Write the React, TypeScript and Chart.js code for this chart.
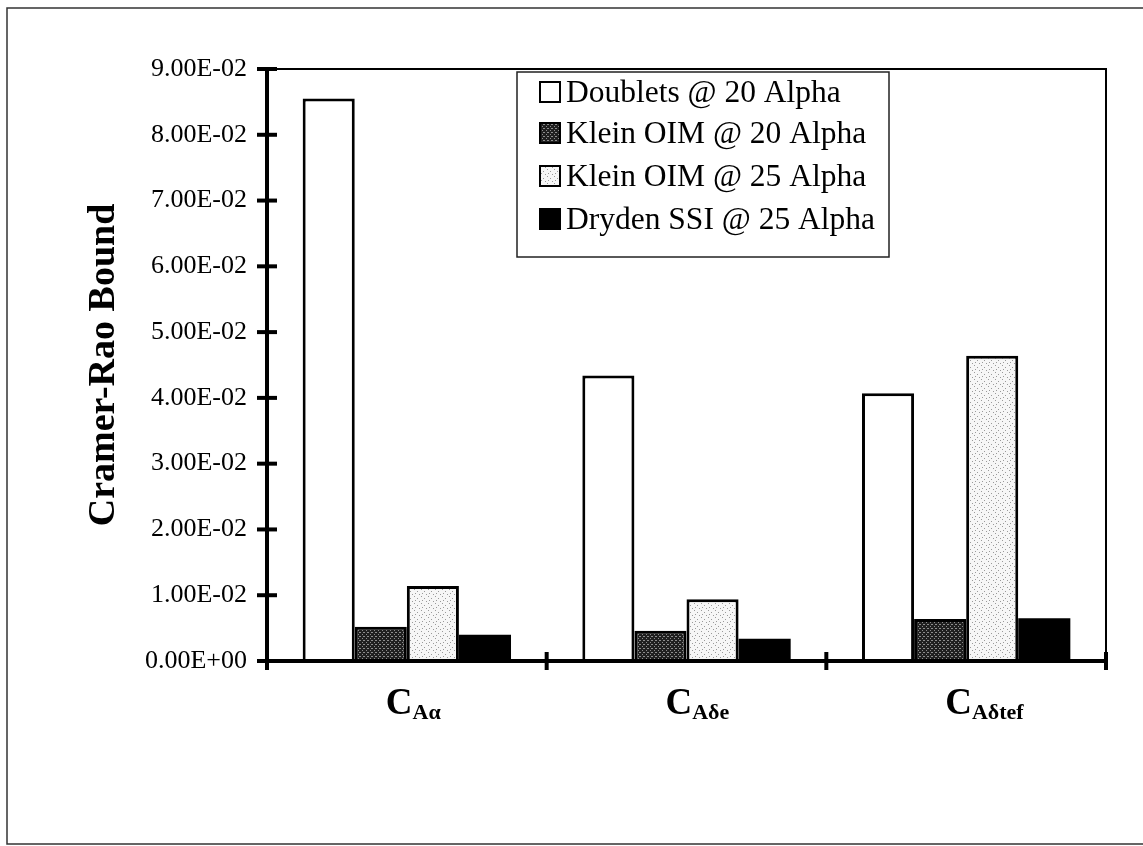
import React, { useEffect, useRef } from "react";
import { Chart, registerables } from "chart.js";

Chart.register(...registerables);

const categories = ["CAα", "CAδe", "CAδtef"];
const labelMain = ["C", "C", "C"];
const labelSub = ["Aα", "Aδe", "Aδtef"];
const seriesNames = [
  "Doublets @ 20 Alpha",
  "Klein OIM @ 20 Alpha",
  "Klein OIM @ 25 Alpha",
  "Dryden SSI @ 25 Alpha",
];
const doublets20 = [0.0855, 0.0434, 0.0407];
const klein20 = [0.0052, 0.0046, 0.0064];
const klein25 = [0.0114, 0.0094, 0.0464];
const dryden25 = [0.004, 0.0034, 0.0065];
const yMin = 0;
const yMax = 0.09;
const yStep = 0.01;

const SERIF = "'Liberation Serif', 'DejaVu Serif', serif";

function fmtExp(v: number): string {
  if (Math.abs(v) < 1e-12) return "0.00E+00";
  const s = v.toExponential(2);
  const [m, e] = s.split("e");
  const n = parseInt(e, 10);
  const sign = n < 0 ? "-" : "+";
  const abs = Math.abs(n).toString().padStart(2, "0");
  return `${m}E${sign}${abs}`;
}

function makePattern(
  ctx: CanvasRenderingContext2D,
  size: number,
  bg: string,
  fg: string,
  cells: [number, number][]
): CanvasPattern | string {
  const c = document.createElement("canvas");
  c.width = size;
  c.height = size;
  const g = c.getContext("2d");
  if (!g) return bg;
  g.fillStyle = bg;
  g.fillRect(0, 0, size, size);
  g.fillStyle = fg;
  for (const [x, y] of cells) g.fillRect(x, y, 1, 1);
  return ctx.createPattern(c, "repeat") || bg;
}

export default function App() {
  const ref = useRef<HTMLCanvasElement | null>(null);

  useEffect(() => {
    const canvas = ref.current;
    if (!canvas) return;
    const ctx0 = canvas.getContext("2d");
    if (!ctx0) return;

    const darkPat = makePattern(ctx0, 4, "#202020", "#8c8c8c", [
      [0, 0],
      [2, 2],
      [3, 0],
    ]);
    const lightPat = makePattern(ctx0, 7, "#f6f6f6", "#9a9a9a", [
      [1, 1],
      [4, 3],
      [2, 5],
      [6, 6],
    ]);

    const fills = ["#ffffff", darkPat, lightPat, "#000000"];
    const values = [doublets20, klein20, klein25, dryden25];

    const framePlugin = {
      id: "framePlugin",
      beforeDraw(chart: any) {
        const c = chart.ctx;
        c.save();
        c.fillStyle = "#ffffff";
        c.fillRect(0, 0, chart.width, chart.height);
        c.strokeStyle = "#333333";
        c.lineWidth = 1.5;
        c.beginPath();
        c.moveTo(1150, 8);
        c.lineTo(7, 8);
        c.lineTo(7, 844);
        c.lineTo(1150, 844);
        c.stroke();
        c.restore();
      },
      afterDatasetsDraw(chart: any) {
        const c = chart.ctx;
        const area = chart.chartArea;
        const x = chart.scales.x;
        const y = chart.scales.y;
        c.save();
        c.strokeStyle = "#000";
        c.lineWidth = 2;
        c.beginPath();
        c.moveTo(area.left, area.top);
        c.lineTo(area.right, area.top);
        c.lineTo(area.right, area.bottom);
        c.stroke();
        c.lineWidth = 4;
        c.beginPath();
        c.moveTo(area.left, area.top);
        c.lineTo(area.left, area.bottom);
        c.lineTo(area.right, area.bottom);
        c.stroke();
        for (const t of y.ticks) {
          const py = y.getPixelForValue(t.value);
          c.beginPath();
          c.moveTo(area.left - 10, py);
          c.lineTo(area.left + 10, py);
          c.stroke();
        }
        const n = categories.length;
        const bounds: number[] = [area.left];
        for (let i = 0; i < n - 1; i++) {
          bounds.push((x.getPixelForValue(i) + x.getPixelForValue(i + 1)) / 2);
        }
        bounds.push(area.right);
        for (const bx of bounds) {
          c.beginPath();
          c.moveTo(bx, area.bottom - 9);
          c.lineTo(bx, area.bottom + 9);
          c.stroke();
        }
        c.fillStyle = "#000";
        c.textBaseline = "alphabetic";
        c.textAlign = "left";
        for (let i = 0; i < n; i++) {
          const cx = x.getPixelForValue(i);
          const left = cx - 21;
          c.font = `bold 37px ${SERIF}`;
          c.fillText(labelMain[i], left, area.bottom + 53);
          const w = c.measureText(labelMain[i]).width;
          c.font = `bold 22px ${SERIF}`;
          c.fillText(labelSub[i], left + w, area.bottom + 58);
        }
        const lx = 517;
        const ly = 72;
        const lw = 372;
        const lh = 185;
        c.fillStyle = "#fff";
        c.fillRect(lx, ly, lw, lh);
        c.strokeStyle = "#222";
        c.lineWidth = 1.5;
        c.strokeRect(lx, ly, lw, lh);
        const rows = [92, 133, 176, 219];
        c.font = `31.5px ${SERIF}`;
        c.textBaseline = "middle";
        for (let i = 0; i < seriesNames.length; i++) {
          const ry = rows[i];
          c.fillStyle = fills[i] as any;
          c.fillRect(540, ry - 10, 20, 20);
          c.strokeStyle = "#000";
          c.lineWidth = 2;
          c.strokeRect(540, ry - 10, 20, 20);
          c.fillStyle = "#000";
          c.fillText(seriesNames[i], 566, ry + 2);
        }
        c.restore();
      },
    };

    const chart = new Chart(canvas, {
      type: "bar",
      data: {
        labels: categories,
        datasets: seriesNames.map((name, i) => ({
          label: name,
          data: values[i],
          backgroundColor: fills[i] as any,
          borderColor: "#000000",
          borderWidth: i === 3 ? 0 : 3,
          borderSkipped: "bottom",
          barPercentage: 1.0,
          categoryPercentage: 0.745,
        })),
      },
      options: {
        responsive: false,
        animation: false,
        events: [],
        layout: { padding: { top: 69, right: 37, left: 0, bottom: 0 } },
        plugins: {
          legend: { display: false },
          tooltip: { enabled: false },
          title: { display: false },
        },
        scales: {
          x: {
            type: "category",
            offset: true,
            grid: { display: false, drawTicks: false },
            border: { display: false },
            ticks: { display: false },
            afterFit: (s: any) => {
              s.height = 846 - 661;
            },
          },
          y: {
            min: yMin,
            max: yMax,
            grid: { display: false, drawTicks: false },
            border: { display: false },
            ticks: {
              stepSize: yStep,
              padding: 20,
              color: "#000",
              font: { family: SERIF, size: 26 },
              callback: (v: any) => fmtExp(Number(v)),
            },
            title: {
              display: true,
              text: "Cramer-Rao Bound",
              color: "#000",
              font: { family: SERIF, size: 38, weight: "bold" },
              padding: { top: 81, bottom: 0 },
            },
            afterFit: (s: any) => {
              s.width = 267;
            },
          },
        },
      },
      plugins: [framePlugin],
    });

    return () => chart.destroy();
  }, []);

  return (
    <div style={{ position: "fixed", left: 0, top: 0, width: 1143, height: 846, background: "#fff" }}>
      <canvas ref={ref} width={1143} height={846} style={{ width: 1143, height: 846, display: "block" }} />
    </div>
  );
}
